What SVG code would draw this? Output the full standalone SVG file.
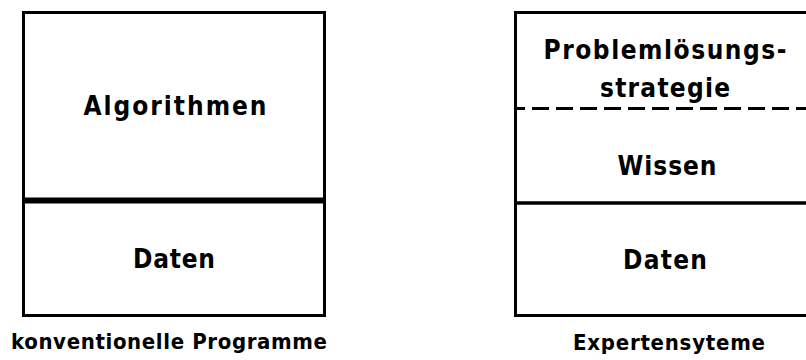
<svg xmlns="http://www.w3.org/2000/svg" width="806" height="360" viewBox="0 0 806 360">
<style>
.box{fill:none;stroke:#000;stroke-width:3}
.t{font-family:"DejaVu Sans Condensed","DejaVu Sans",Verdana,sans-serif;font-weight:bold;font-size:26px;fill:#000;text-anchor:middle}
.cap{font-family:"DejaVu Sans Condensed","DejaVu Sans",sans-serif;font-weight:bold;font-size:22px;fill:#000;text-anchor:middle}
</style>
<rect width="806" height="360" fill="#fff"/>
<g id="conventional">
<rect class="box" x="23.5" y="12.5" width="301" height="303"/>
<text class="t" x="175" y="115" textLength="183">Algorithmen</text>
</g>
<g id="conv-daten">
<line x1="22" y1="200.5" x2="326" y2="200.5" stroke="#000" stroke-width="6"/>
<text class="t" x="174" y="268" textLength="82">Daten</text>
</g>
<text class="cap" x="169" y="349" textLength="316">konventionelle Programme</text>
<g id="expert">
<rect class="box" x="515.5" y="12.5" width="310" height="303"/>
<text class="t" x="665" y="59" textLength="243">Problemlösungs-</text>
<text class="t" x="665" y="97" textLength="130">strategie</text>
</g>
<g id="wissen">
<line x1="514" y1="108.5" x2="806" y2="108.5" stroke="#000" stroke-width="3" stroke-dasharray="17 7" stroke-dashoffset="6"/>
<text class="t" x="667" y="175" textLength="99">Wissen</text>
</g>
<g id="exp-daten">
<line x1="514" y1="203" x2="806" y2="203" stroke="#000" stroke-width="3.5"/>
<text class="t" x="665" y="269" textLength="84">Daten</text>
</g>
<text class="cap" x="669" y="350" textLength="192">Expertensyteme</text>
<g id="connectors"/>
</svg>
